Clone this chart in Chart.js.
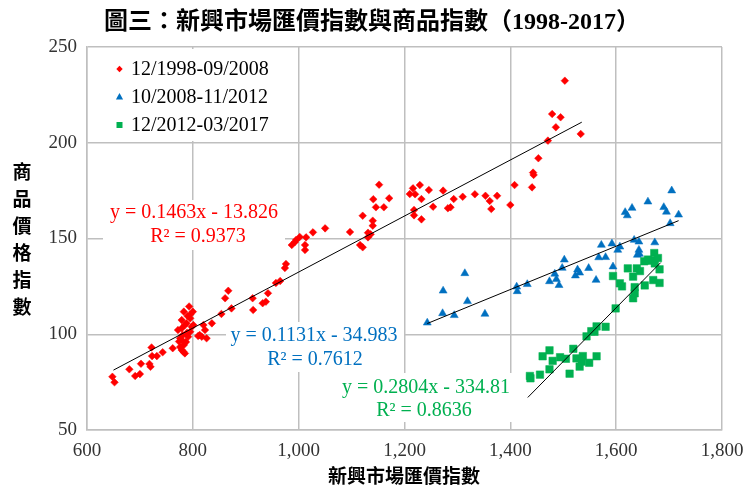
<!DOCTYPE html>
<html><head><meta charset="utf-8">
<script src="https://cdn.jsdelivr.net/npm/chart.js@4.4.0/dist/chart.umd.min.js"></script>
<style>html,body{margin:0;padding:0;background:#fff;}#wrap{width:745px;height:487px;}</style>
</head><body><div id="wrap"><canvas id="c" width="745" height="487"></canvas></div>
<script>
// ---------------- DATA ----------------
const chartTitle = '圖三：新興市場匯價指數與商品指數（1998-2017）';
const xAxisTitle = '新興市場匯價指數';
const yAxisTitle = ['商','品','價','格','指','數'];
const seriesNames = ['12/1998-09/2008', '10/2008-11/2012', '12/2012-03/2017'];
const xTicks = [600, 800, 1000, 1200, 1400, 1600, 1800];
const yTicks = [50, 100, 150, 200, 250];

const redX = [648,652,680,691,700,702,718,720,722,723,732,743,762,774,779,782,785,783,793,795,800,785,788,795,798,779,776,789,795,791,801,813,820,823,826,817,810,836,854,861,867,873,913,914,932,938,942,779,783,787,781,772,779,790,776,957,965,974,976,987,993,995,1002,1012,1012,1014,1027,1050,1097,1116,1121,1121,1140,1140,1131,1136,1131,1141,1146,1152,1161,1171,1210,1216,1220,1229,1232,1218,1218,1232,1246,1254,1273,1282,1287,1293,1310,1333,1353,1361,1364,1375,1400,1408,1441,1443,1444,1453,1471,1486,1479,1495,1503,1533];
const redY = [77.8,74.9,81.7,78.2,79.2,84.6,84.5,83.0,93.1,88.6,88.6,90.6,92.7,96.2,97.0,90.9,90.0,111.8,114.5,110.3,111.8,104.8,105.7,108.3,103.9,103.1,97.9,100.8,101.3,98.7,104.8,99.6,104.8,102.2,97.9,98.7,99.1,105.7,110.6,118.8,122.7,113.5,118.8,112.7,116.2,117.0,121.4,91.8,94.4,96.0,99.6,102.2,107.4,109.5,93.3,126.8,127.8,134.6,136.7,146.6,148.2,149.2,150.8,146.6,144.0,150.6,153.2,155.3,153.4,146.6,145.4,161.9,159.3,156.7,153.0,152.2,150.6,170.5,166.3,178.1,166.3,171.0,173.2,176.2,173.1,177.9,170.6,164.9,162.1,160.0,175.3,166.6,175.0,165.8,166.3,170.6,171.8,173.1,172.3,169.6,165.4,172.3,167.5,177.9,176.7,184.4,183.2,191.9,201.1,208.1,215.0,213.3,232.4,204.6];

const blueX = [1243,1272,1294,1273,1314,1319,1352,1412,1413,1432,1474,1484,1487,1492,1498,1502,1523,1527,1548,1562,1567,1572,1580,1592,1594,1603,1607,1617,1621,1630,1634,1643,1643,1644,1640,1660,1673,1690,1695,1705,1718,1702,1531];
const blueY = [106.0,110.9,109.9,122.7,131.8,117.2,110.6,124.8,122.4,126.1,127.6,131.5,128.7,125.6,134.6,138.9,130.6,133.7,134.5,128.3,140.1,146.6,140.2,147.3,135.3,144.0,145.7,163.7,162.0,165.9,149.2,148.3,144.0,141.9,141.4,169.2,147.9,166.3,163.9,175.0,162.4,157.9,132.1];

const greenX = [1437,1438,1456,1474,1461,1480,1474,1494,1505,1512,1519,1525,1531,1535,1537,1549,1563,1544,1553,1563,1559,1580,1599,1594,1607,1611,1622,1632,1635,1632,1639,1653,1654,1667,1672,1673,1682,1670,1682,1645,1635,1660,1679];
const greenY = [78.2,77.0,78.9,91.6,88.5,86.1,81.7,88.0,87.2,79.4,92.4,87.4,83.1,85.7,88.6,85.1,88.5,98.9,101.6,104.1,101.3,103.9,113.5,130.4,126.6,125.0,134.4,118.8,124.6,130.1,134.4,138.1,125.5,138.4,142.4,137.0,133.9,128.3,126.8,133.0,121.4,139.0,139.8];

// trendlines (slope, intercept) as printed on the chart, and their x extent
const trendSlope = [0.1463, 0.1131, 0.2804];
const trendIntercept = [-13.826, -34.983, -334.81];
const trendFrom = [650, 1243, 1433];
const trendTo = [1535, 1718, 1684];
const trendEq = ['y = 0.1463x - 13.826', 'y = 0.1131x - 34.983', 'y = 0.2804x - 334.81'];
const trendR2 = ['R² = 0.9373', 'R² = 0.7612', 'R² = 0.8636'];

// ---------------- STYLE / LAYOUT ----------------
const colors = ['#FF0000', '#0070C0', '#00B050'];
const SERIF = '"Liberation Serif", "Times New Roman", "Noto Sans CJK TC", serif';
const labelLayout = [
  {box:[103,200,285,250], eq:[194,213], r2:[198,237]},
  {box:[226,322,404,372], eq:[314,336], r2:[315,360]},
  {box:[336,373,515,422], eq:[426,388], r2:[424,411]}
];

function toPts(xs, ys){ return xs.map((x,i)=>({x:x, y:ys[i]})); }
function trendPts(i){
  return [trendFrom[i], trendTo[i]].map(x=>({x:x, y:trendSlope[i]*x + trendIntercept[i]}));
}

function drawMarker(ctx, style, x, y, s, color){
  ctx.save(); ctx.fillStyle = color; ctx.beginPath();
  if (style==='diamond'){ ctx.moveTo(x-s,y); ctx.lineTo(x,y-s); ctx.lineTo(x+s,y); ctx.lineTo(x,y+s); }
  else if (style==='triangle'){ ctx.moveTo(x, y-s); ctx.lineTo(x+s*0.9, y+s*0.6); ctx.lineTo(x-s*0.9, y+s*0.6); }
  else { ctx.rect(x-s, y-s, 2*s, 2*s); }
  ctx.closePath(); ctx.fill(); ctx.restore();
}

const overlay = {
  id:'overlay',
  afterDatasetsDraw(chart){
    const ctx = chart.ctx;
    ctx.save();
    labelLayout.forEach((L,i)=>{
      ctx.fillStyle = '#fff';
      ctx.fillRect(L.box[0], L.box[1], L.box[2]-L.box[0], L.box[3]-L.box[1]);
      ctx.fillStyle = colors[i];
      ctx.font = '20px ' + SERIF;
      ctx.textAlign = 'center'; ctx.textBaseline = 'middle';
      ctx.fillText(trendEq[i], L.eq[0], L.eq[1]);
      ctx.fillText(trendR2[i], L.r2[0], L.r2[1]);
    });
    ctx.fillStyle = '#fff';
    ctx.fillRect(88, 49, 204, 92);
    const styles = ['diamond','triangle','square'];
    const sizes = [3.2, 4, 3];
    const rows = [69, 97, 125];
    ctx.font = '20px ' + SERIF;
    ctx.textAlign = 'left'; ctx.textBaseline = 'middle';
    seriesNames.forEach((n,i)=>{
      drawMarker(ctx, styles[i], 119.5, rows[i], sizes[i], colors[i]);
      ctx.fillStyle = '#000';
      ctx.fillText(n, 131, rows[i]+1);
    });
    ctx.restore();
  },
  afterDraw(chart){
    const ctx = chart.ctx;
    ctx.save();
    ctx.fillStyle = '#000';
    ctx.textAlign = 'center'; ctx.textBaseline = 'middle';
    ctx.font = 'bold 24px ' + SERIF;
    ctx.fillText(chartTitle, 372, 23);
    ctx.font = 'bold 19px ' + SERIF;
    ctx.fillText(xAxisTitle, 404, 478);
    yAxisTitle.forEach((c,i)=>ctx.fillText(c, 22, 174 + i*27));
    ctx.restore();
  }
};

const tickFont = {family: SERIF, size: 19};
const gridCol = '#bfbfbf';

new Chart(document.getElementById('c'), {
  type:'scatter',
  data:{datasets:[
    {label:seriesNames[0], data:toPts(redX,redY), pointStyle:'rectRot', pointRadius:3.8, pointHoverRadius:3.8, backgroundColor:colors[0], borderColor:colors[0], borderWidth:0.5, order:3},
    {label:seriesNames[1], data:toPts(blueX,blueY), pointStyle:'triangle', pointRadius:4.6, pointHoverRadius:4.6, backgroundColor:colors[1], borderColor:colors[1], borderWidth:0.5, order:2},
    {label:seriesNames[2], data:toPts(greenX,greenY), pointStyle:'rect', pointRadius:5.3, pointHoverRadius:5.3, backgroundColor:colors[2], borderColor:colors[2], borderWidth:0.5, order:1},
    {type:'line', data:trendPts(0), borderColor:'#000', borderWidth:1, pointRadius:0, fill:false, order:0},
    {type:'line', data:trendPts(1), borderColor:'#000', borderWidth:1, pointRadius:0, fill:false, order:0},
    {type:'line', data:trendPts(2), borderColor:'#000', borderWidth:1, pointRadius:0, fill:false, order:0}
  ]},
  options:{
    responsive:false, animation:false, devicePixelRatio:1,
    layout:{padding:{top:47, right:23, left:0, bottom:0}},
    plugins:{legend:{display:false}, title:{display:false}, tooltip:{enabled:false}},
    scales:{
      x:{type:'linear', min:600, max:1800,
        afterBuildTicks:s=>{ s.ticks = xTicks.map(v=>({value:v})); },
        ticks:{callback:v=>v.toLocaleString('en-US'), font:tickFont, color:'#333', padding:10, maxRotation:0, autoSkip:false},
        grid:{color:gridCol, lineWidth:1.5, drawTicks:false},
        border:{color:gridCol, width:1.5},
        afterFit:s=>{ s.height = 57; s.paddingLeft = 0; s.paddingRight = 0; }
      },
      y:{type:'linear', min:50, max:250,
        afterBuildTicks:s=>{ s.ticks = yTicks.map(v=>({value:v})); },
        ticks:{font:tickFont, color:'#333', padding:10, autoSkip:false},
        grid:{color:gridCol, lineWidth:1.5, drawTicks:false},
        border:{color:gridCol, width:1.5},
        afterFit:s=>{ s.width = 87; s.paddingTop = 0; s.paddingBottom = 0; }
      }
    }
  },
  plugins:[overlay]
});
</script></body></html>
